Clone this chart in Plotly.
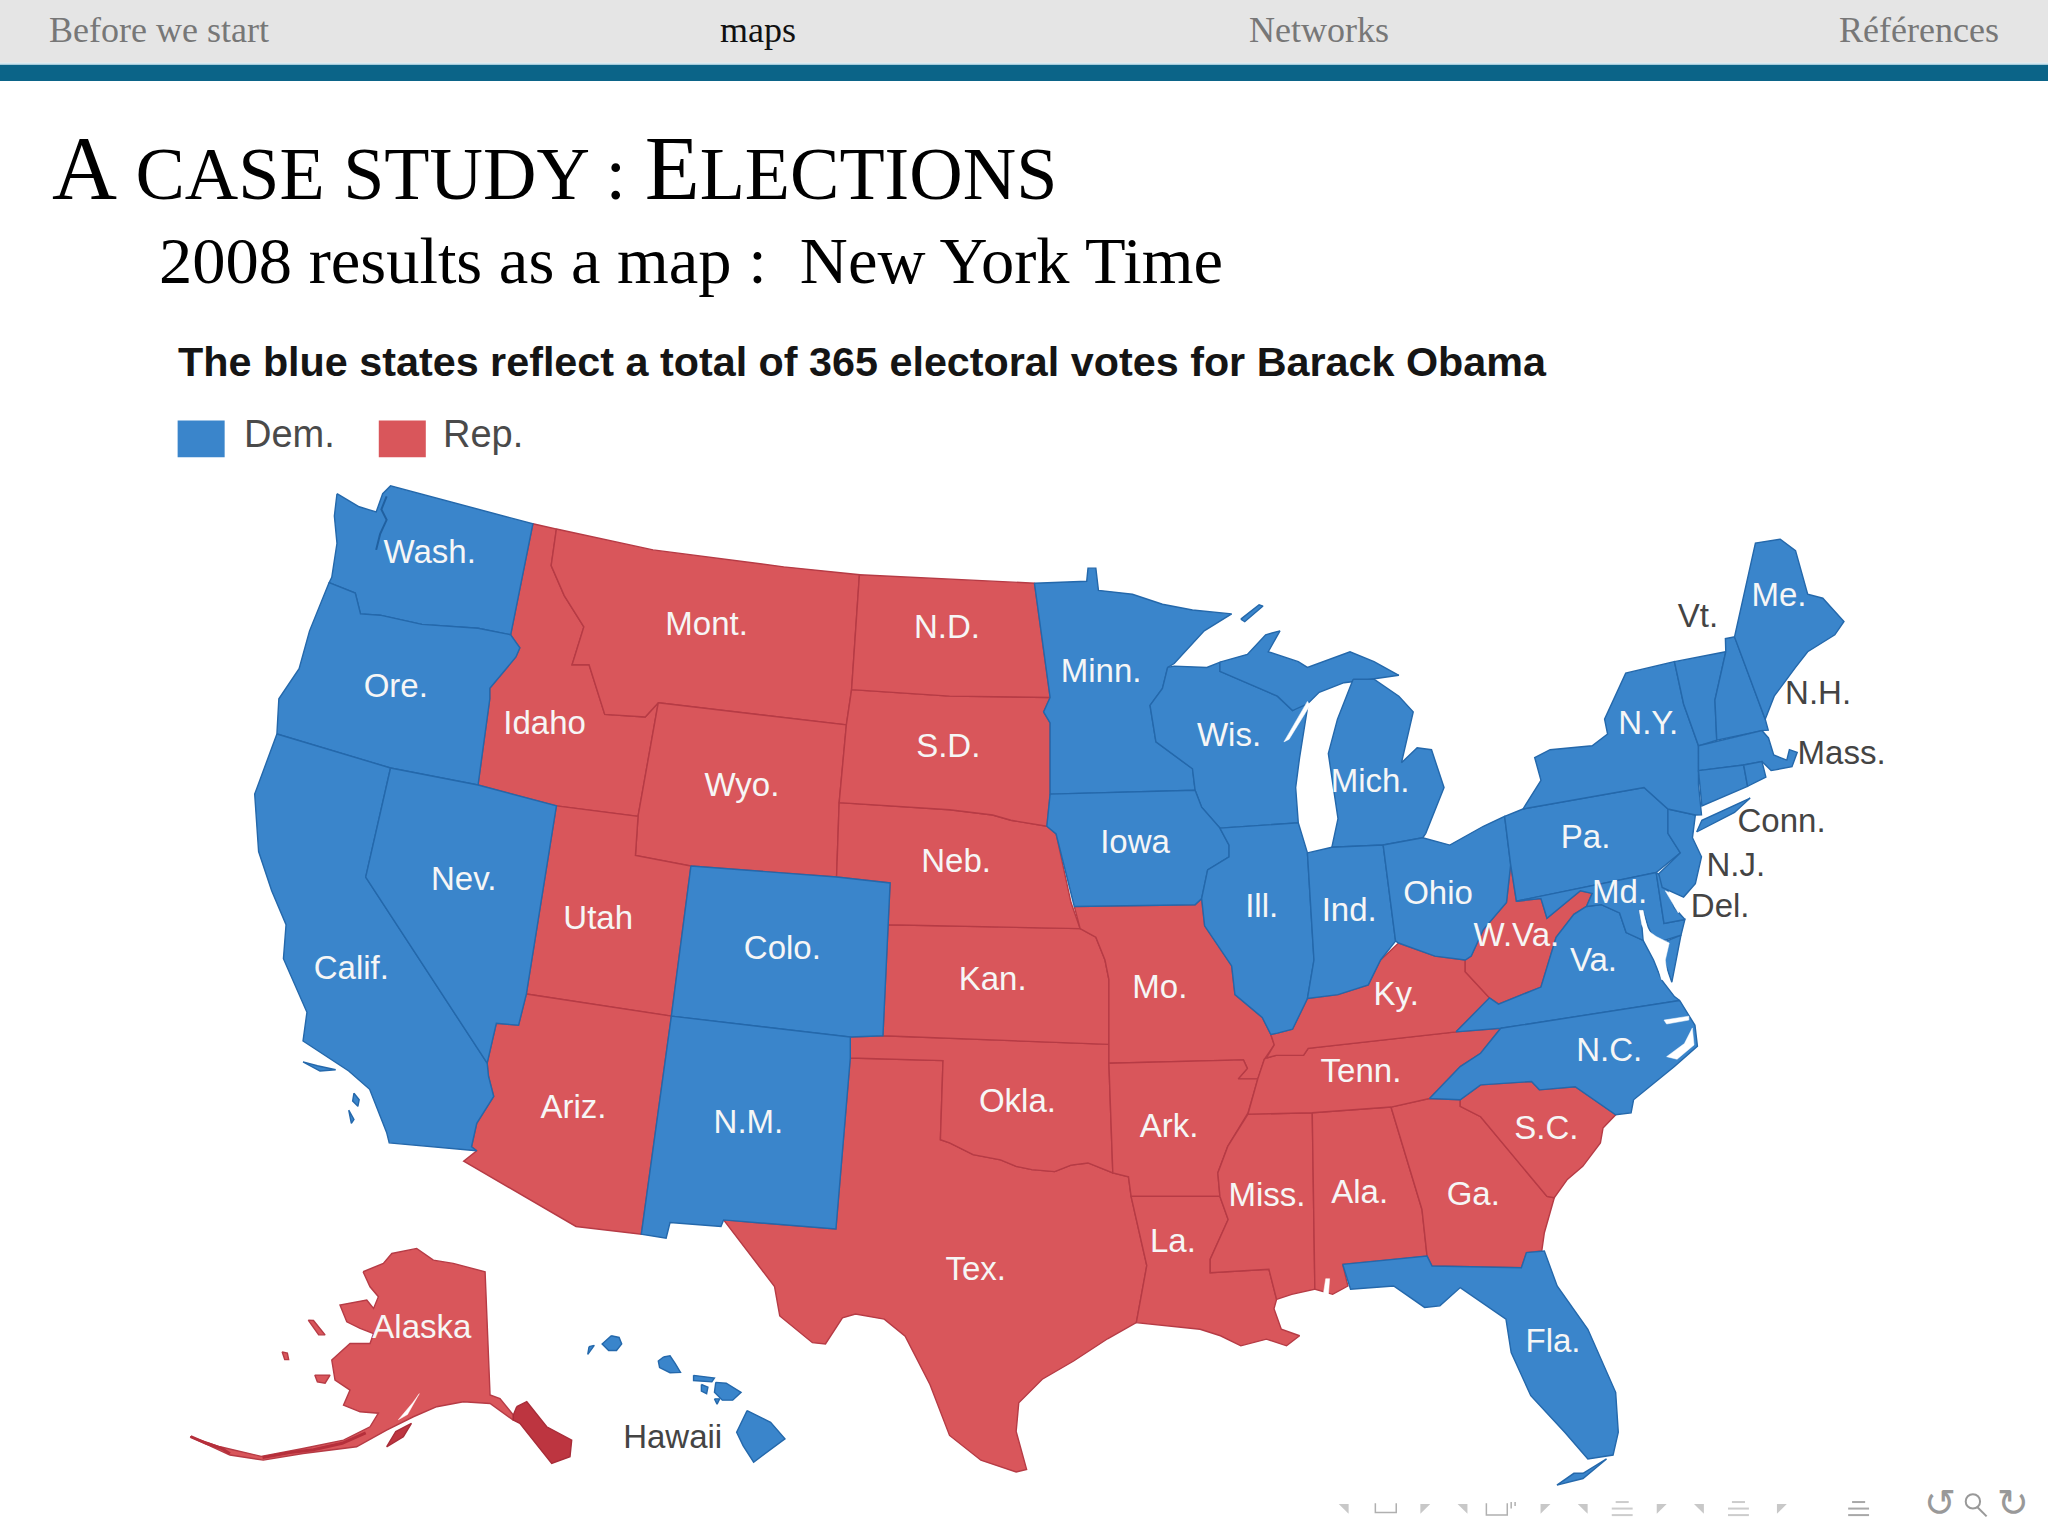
import plotly.graph_objects as go

# ---------- text ----------
NAV_ITEMS = ["Before we start", "maps", "Networks", "Références"]
NAV_COLORS = ["#777777", "#111111", "#777777", "#777777"]
TITLE = ('A<span style="font-size:74px"> CASE STUDY : </span>E<span style="font-size:74px">LECTIONS</span>')
SUBTITLE = "2008 results as a map :\u00a0 New York Time"
HEADLINE = "The blue states reflect a total of 365 electoral votes for Barack Obama"
LEGEND_NAMES = ["Dem.", "Rep."]

BLUE = "#3a85cb"; BLUE_EDGE = "#2468ab"
RED = "#d9565b"; RED_EDGE = "#b63b45"; RED_DARK = "#bd3540"

# ---------- state outlines ----------
WASH = [(258,378),(275,388),(288,392),(293,378),(299,372),(408,401),(391,486),(366,481),(323,478),(291,471),(276,470),(272,454),(252,446),(254,442),(258,416),(256,395)]
ORE = [(252,446),(272,454),(276,470),(291,471),(323,478),(366,481),(391,486),(398,496),(395,503),(375,527),(375,535),(366,601),(299,588),(212,562),(213.5,535),(229,512),(237,483)]
CALIF = [(212,562),(299,588),(280,671.5),(373,814),(374,824),(378,839.5),(365,860),(361,878),(365,881),(298,875),(296,867),(283,834),(267,820),(232,797),(235,775),(217,734),(219,708),(208,682),(198,652),(195,608)]
NEV = [(299,588),(366,601),(426,617),(403,761),(397,785),(380,783.5),(373,814),(280,671.5)]
IDAHO = [(408,401),(426,405),(422,433),(432,456),(447,480),(438,509),(451,509),(463,547),(494,549),(504,538),(488.5,625),(426,617),(366,601),(375,535),(375,527),(395,503),(398,496),(391,486)]
MONT = [(426,405),(500,421),(600,434),(658,440),(652,528),(648,555),(504,538),(494,549),(463,547),(451,509),(438,509),(447,480),(432,456),(422,433)]
WYO = [(504,538),(648,555),(642.5,614.5),(640.5,671.5),(529,663),(486.5,655),(488.5,625)]
UTAH = [(426,617),(488.5,625),(486.5,655),(529,663),(514,778),(403,761)]
ARIZ = [(403,761),(514,778),(491,945),(441,939),(355,889),(365,881),(361,878),(365,860),(378,839.5),(374,824),(373,814),(380,783.5),(397,785)]
COLO = [(529,663),(640.5,671.5),(681.5,676),(680,708),(676,793),(651,794),(514,778)]
NM = [(514,778),(651,794),(651,810),(640,941),(554,934),(552,939),(513,936),(510,948),(491,945)]
TEX = [(651,810),(722,812),(720,872.6),(727,875),(745,884),(766,888),(778,893),(790,895.5),(807.5,897),(820,892),(833,890.4),(852,898),(864,901),(866,916),(878,969),(870,1012.6),(848,1025),(822,1042),(798,1056),(780,1074),(778,1096),(786,1125),(778,1127),(751,1118),(727,1099),(712,1060),(693,1023),(677,1010),(655,1006),(645,1009),(632,1029),(622,1028),(597,1007.5),(593,985),(554,934),(640,941)]
OKLA = [(651,794),(676,793),(849,799.6),(849,814),(852,898),(833,890.4),(820,892),(807.5,897),(790,895.5),(778,893),(766,888),(745,884),(727,875),(720,872.6),(722,812),(651,810)]
KAN = [(680,708),(827,711),(839,717.5),(846,735),(849,750),(849,799.6),(676,793)]
NEB = [(642.5,614.5),(727,620),(760,624),(774,628),(801.5,632.6),(808.6,638.5),(820,691),(827,711),(680,708),(681.5,676),(640.5,671.5)]
SD = [(652,528),(727,533),(804,534),(799,545),(804,553.5),(804,608),(801.5,632.6),(774,628),(760,624),(727,620),(642.5,614.5),(648,555)]
ND = [(658,440),(792,446.5),(797,483),(804,534),(727,533),(652,528)]
MINN = [(792,446.5),(832,445),(833,435),(839,435),(841,452),(867,455),(890,462.6),(913,467),(943,470),(922,483),(899,508),(894,511),(890,527),(880.5,540),(885,568),(913,588.6),(915,605),(804,608),(804,553.5),(799,545),(804,534),(797,483)]
ISLE_ROYALE = [(950,474),(964,463),(967,464),(953,476)]
WIS = [(894,511),(899,510),(924,511),(934,507),(934,514),(978,533),(989.6,544),(1002,536),(995,580),(992,603),(994,630),(934,634),(920,618),(915,605),(913,588.6),(885,568),(880.5,540),(890,527)]
MICH_UP = [(934,507),(955,501),(969,486),(980,483),(971,499),(994,506.6),(1001,511),(1033.6,499),(1052,506.6),(1071,517),(1043,521),(1029,522.7),(1010,530),(1001,539),(989.6,544),(978,533),(934,514)]
MICH_LOW = [(1036,520),(1052,520),(1071,533),(1082,545),(1073,584),(1085,572.5),(1096,574),(1105.6,603),(1091.6,638),(1089.3,641.4),(1059,647),(1019.7,648.7),(1024.4,626.7),(1017,577),(1024,550.6)]
IOWA = [(804,608),(915,605),(920,618),(934,634),(941,647),(941,656),(924.6,666),(920,688),(915,692.7),(822.5,694),(808.6,638.5),(801.5,632.6)]
ILL = [(934,634),(994,630),(1001,653),(1006,735),(1001,764.5),(989.6,788),(978,791),(973,792),(966.4,779),(945.5,761.5),(943,739.5),(922.3,708.8),(920,688),(924.6,666),(941,656),(941,647)]
MO = [(822.5,694),(915,692.7),(920,688),(922.3,708.8),(943,739.5),(945.5,761.5),(966.4,779),(973,792),(975.6,800),(968,811),(963,826),(948,826),(955,818),(952,811.5),(849,814),(849,750),(846,735),(839,717.5),(827,711)]
ARK = [(849,814),(952,811.5),(955,818),(948,826),(963,826),(955.5,852),(940,877.7),(932.4,898),(934,916),(866,916),(864,901),(852,898)]
LA = [(866,916),(934,916),(940.3,933.7),(926.6,964),(926.6,974.4),(971.5,971.8),(977.4,994.8),(975.4,1002),(981,1017.7),(995,1022.7),(985,1030.4),(969.6,1025.3),(950,1030.4),(934.4,1022.7),(918.8,1017.7),(883.6,1013.8),(870,1012.6),(878,969)]
MISS = [(955.5,853),(1004.7,852),(1006.7,987),(989,991),(977.4,994.8),(971.5,971.8),(926.6,974.4),(926.6,964),(940.3,933.7),(934,916),(932.4,898),(940,877.7)]
ALA = [(1004.7,852),(1065,847.6),(1088.7,926),(1092.6,961.7),(1028,968),(1032,984.6),(1020.3,991),(1006.7,987)]
GA = [(1065,847.6),(1094.5,841),(1118,842),(1118,847),(1133.6,855),(1184.4,916),(1190,917),(1182.4,943.8),(1180.4,957.8),(1168.7,959),(1164.8,970.6),(1096.4,969.3),(1092.6,961.7),(1088.7,926)]
SC = [(1118,842),(1133.6,830.6),(1172.6,828),(1178.6,834.4),(1206,832),(1237,853.5),(1227.3,863.7),(1225.3,875),(1211.8,893),(1200,903),(1190,917),(1184.4,916),(1133.6,855),(1118,847)]
NC = [(1149,787.3),(1286,766),(1297.7,785),(1299.6,801),(1282,816.6),(1274,823),(1250.7,842),(1248.8,852),(1237,853.5),(1206,832),(1178.6,834.4),(1172.6,828),(1133.6,830.6),(1118,842),(1094.5,841),(1118,816.6),(1133.6,806.4)]
TENN = [(969.6,810),(977,808),(998,808),(1001.6,802.6),(1114.8,790),(1149,787.3),(1133.6,806.4),(1118,816.6),(1094.5,841),(1065,847.6),(1004.7,852),(955.5,853),(963,826),(968,811)]
KY = [(973,792),(978,791),(989.6,788),(1001,764.5),(1024.4,761.5),(1047.6,754),(1057,735),(1070.8,722),(1098.6,732),(1121.8,735),(1121.8,744),(1140.4,764),(1114.8,790),(1001.6,802.6),(998,808),(977,808),(969.6,810),(975.6,800)]
IND = [(1001,653),(1019.7,648.7),(1059,647),(1068.5,720.5),(1057,735),(1047.6,754),(1024.4,761.5),(1001,764.5),(1006,735)]
OHIO = [(1059,647),(1089.3,641.4),(1110,647),(1135.7,632.6),(1152,625),(1156.6,662),(1153.4,691),(1135.7,711.7),(1126.4,732),(1121.8,735),(1098.6,732),(1070.8,722),(1068.5,720.5)]
PA = [(1152,625),(1166,619.4),(1258.7,603),(1277,619.4),(1277,638),(1286.5,653),(1268,668),(1161,690),(1156.6,662)]
WVA = [(1156.6,662),(1161,690),(1179.8,688),(1184.4,703),(1210,682),(1219,684),(1214.6,694),(1205,700),(1191.4,717.6),(1179.8,755.7),(1147.3,768.8),(1140.4,764),(1121.8,744),(1121.8,735),(1126.4,732),(1135.7,711.7),(1153.4,691)]
VA = [(1114.8,790),(1140.4,764),(1147.3,768.8),(1179.8,755.7),(1191.4,717.6),(1205,700),(1214.6,694),(1226,692.6),(1240,699),(1245,714),(1258,720),(1266,735),(1272,750),(1282,763),(1286,766),(1149,787.3)]
VA_SHORE = [(1270,723),(1287,716),(1280,752)]
MD = [(1161,690),(1268,668),(1274,707),(1290,704),(1287,716),(1268,722),(1262,710),(1258,697),(1255,697),(1257,708),(1258,720),(1245,714),(1240,699),(1226,692.6),(1214.6,694),(1219,684),(1210,682),(1184.4,703),(1179.8,688)]
DEL = [(1268,668),(1271,670),(1276,680),(1282,695),(1290,704),(1274,707)]
NJ = [(1277,619.4),(1298,624),(1295.8,641.4),(1302.7,656),(1298,676.5),(1289,686.8),(1272.6,679.5),(1270,669),(1286.5,653),(1277,638)]
NY = [(1166,619.4),(1179.8,597.4),(1175,580),(1186.8,574),(1219,571),(1230.8,562),(1228.5,550.6),(1244.7,515.4),(1282,506.6),(1289,539),(1300.4,571),(1300.4,600.4),(1302.7,623.8),(1298,624),(1277,619.4),(1258.7,603)]
LONG_ISL = [(1299,637),(1303,628),(1340,611),(1328,622)]
VT = [(1282,506.6),(1321.3,499),(1313,536),(1314.4,566.7),(1300.4,571),(1289,539)]
NH = [(1321.3,499),(1321,489),(1328,487.6),(1351.5,550.6),(1353.8,559),(1349,559.4),(1314.4,566.7),(1313,536)]
ME = [(1328,487.6),(1335,456.8),(1344,415.8),(1363,412.8),(1374.7,421.6),(1384,455),(1395.6,458),(1411.8,475.8),(1404.8,486),(1384,499),(1374.7,511),(1358.4,533),(1351.5,550.6)]
MASS = [(1300.4,571),(1349,559.4),(1354,565),(1358,578),(1368,582),(1370,574),(1376,576),(1372,587),(1356,590),(1349,583),(1335,585.7),(1300.4,590)]
CONN = [(1300.4,590),(1335,585.7),(1338,602),(1303,617)]
RI = [(1335,585.7),(1349,583),(1352,595),(1338,602)]
FLA = [(1028,968),(1092.6,961.7),(1096.4,969.3),(1164.8,970.6),(1168.7,959),(1182.4,957.8),(1192.2,984.6),(1215.7,1017.7),(1237,1066),(1239,1096.6),(1235,1114),(1215.7,1117),(1198,1096.6),(1172,1068.6),(1157,1035.5),(1153,1010),(1118,985.8),(1102.4,999.8),(1090.7,1001),(1067,984.6),(1034,987)]
FLA_KEYS = [(1192,1137),(1205,1128),(1212,1128),(1230,1117),(1212,1132)]
ALASKA = [(278,973.7),(293.5,967.3),(300,959.7),(319,955.8),(331.8,964.8),(347,967.3),(371.4,973.7),(375.2,1068),(382.8,1070.7),(393,1083.4),(393,1087.3),(375.2,1074.5),(354.8,1073.2),(334.4,1077),(316.5,1084.7),(296,1095),(273,1107.7),(232,1112.8),(201.6,1117.9),(176,1114),(145.5,1100),(168.5,1107.7),(200,1115),(232,1109),(263,1102.6),(283.3,1092.4),(289.7,1082),(275.7,1080.9),(263,1075.8),(268,1064.3),(256.5,1056.6),(254,1041.3),(268,1028.6),(283.3,1028.6),(286,1021),(275.7,1017),(265.5,1012),(260.3,999.2),(280.8,995.4),(286,1001.8),(289.7,992.8),(283.3,985.2)]
PANHANDLE = [(395.6,1077),(403.3,1073.2),(418.6,1092.4),(437.7,1102.6),(436.4,1115.3),(422.4,1120.4),(398,1089.8),(393,1087.3),(393,1083.4)]
KODIAK = [(296,1107.7),(303,1096),(315,1089.8),(308.8,1100)]
NUNIVAK = [(241,1052.8),(252.7,1052.8),(248.9,1059),(243,1058)]
ST_LAWRENCE = [(236,1010.7),(240,1011),(248.9,1022),(244,1022)]
ISLET = [(216,1035),(220,1036),(221,1041),(218,1041)]
ALEUT_WEST_X = [146, 158, 170, 176]
ALEUT_WEST_Y = [1100, 1105, 1109, 1113]
ALEUT_EAST_X = [201, 222, 240, 262, 280]
ALEUT_EAST_Y = [1116, 1112, 1110, 1105, 1097]
COOK_INLET = [(305,1087),(312,1083),(321,1067),(316,1074)]
KAUAI = [(468,1022.7),(474,1024),(476,1029),(472,1034),(466,1034),(461,1029)]
NIIHAU = [(451,1031),(455,1030),(450,1037)]
OAHU = [(508,1039),(513,1038),(517,1044),(521,1050.7),(513,1051),(505,1047),(504,1042)]
MOLOKAI = [(531,1053),(547,1055),(545,1058),(531,1057)]
LANAI = [(537,1060),(542,1062),(541,1067),(537,1065)]
MAUI = [(548,1058.4),(556,1059),(567.4,1066),(561,1072),(553,1072),(547,1066)]
KAHOOLAWE = [(547,1071),(551,1071),(549,1075)]
BIG_ISLAND = [(572,1080),(590,1089),(601,1101.6),(577,1119.5),(569,1107),(564,1096.6)]
CHANNEL_A = [(232,813),(243,816),(257,819),(245,820)]
CHANNEL_B = [(271,837),(275,842),(274,847),(270,843)]
CHANNEL_C = [(267,850),(271,857),(269,860)]

DEM_STATES = [WASH, ORE, CALIF, NEV, COLO, NM, MINN, ISLE_ROYALE, WIS, MICH_UP, MICH_LOW, IOWA, ILL, IND, OHIO, PA, VA, VA_SHORE, MD, DEL, NJ, NY, LONG_ISL, VT, NH, ME, MASS, CONN, RI, NC, FLA, FLA_KEYS, KAUAI, NIIHAU, OAHU, MOLOKAI, LANAI, MAUI, KAHOOLAWE, BIG_ISLAND, CHANNEL_A, CHANNEL_B, CHANNEL_C]
REP_STATES = [IDAHO, MONT, WYO, UTAH, ARIZ, TEX, OKLA, KAN, NEB, SD, ND, MO, ARK, LA, MISS, ALA, GA, SC, TENN, KY, WVA, ALASKA, NUNIVAK, ST_LAWRENCE, ISLET]
REP_DARK = [PANHANDLE, KODIAK]

# water cut into the land
GREEN_BAY = [(983,568),(1001,537),(1003,540),(987,566)]
CHESAPEAKE = [(1255,697),(1258,697),(1261,712),(1268,717),(1278,722),(1275,735),(1277,750),(1272,750),(1268,733),(1262,718),(1257,708)]
DELAWARE_BAY = [(1275,682),(1288,688),(1285,699),(1281,692)]
PAMLICO = [(1276,809),(1289.6,799),(1295.7,787),(1297,800),(1284,811)]
ALBEMARLE = [(1274,781),(1293,778),(1293,781),(1276,784)]
MOBILE_BAY = [(1015,979),(1018,979),(1017,992),(1013,992)]
WATER = [GREEN_BAY, CHESAPEAKE, DELAWARE_BAY, PAMLICO, ALBEMARLE, MOBILE_BAY, COOK_INLET]
PUGET_X = [288, 291, 296, 292, 296]
PUGET_Y = [421, 409, 398, 390, 380]

# ---------- labels ----------
WHITE_LABELS = ["Wash.","Ore.","Calif.","Nev.","Idaho","Mont.","Wyo.","Utah","Ariz.","Colo.","N.M.","N.D.","S.D.","Neb.","Kan.","Okla.","Tex.","Minn.","Iowa","Mo.","Ark.","La.","Wis.","Ill.","Miss.","Mich.","Ind.","Ala.","Ohio","Ky.","Tenn.","Ga.","Fla.","S.C.","N.C.","Va.","W.Va.","Pa.","Md.","N.Y.","Me.","Alaska"]
WHITE_X = [329,303,269,355,417,541,568,458,439,599,573,725,726,732,760,779,747,843,869,888,895,898,941,966,970,1049,1033,1041,1101,1069,1042,1128,1189,1184,1232,1220,1161,1214,1240,1262,1362,323]
WHITE_Y = [425,527,743,675,556,480,603,705,850,728,861,482,573,661,752,845,974,516,647,758,864,952,565,696,917,600,699,915,686,763,822,916,1029,866,806,737,718,643,685,556,458,1018]
DARK_LABELS = ["Vt.","N.H.","Mass.","Conn.","N.J.","Del.","Hawaii"]
DARK_X = [1300,1392,1410,1364,1329,1317,515]
DARK_Y = [474,533,579,631,664,696,1102]

# navigation symbols of the slide footer
TRI_LEFT_X = [1030,1121,1213,1302]
TRI_RIGHT_X = [1090,1182,1271,1363]
FOOT_Y = 1154
LINES_X = [1242,1331,1423]
ICONS = ["\u21ba","\u21bb"]
ICON_X = [1485,1541]

fig = go.Figure()

def draw(pts, fill, edge, width=1.4):
    xs = [p[0] for p in pts] + [pts[0][0]]
    ys = [p[1] for p in pts] + [pts[0][1]]
    fig.add_trace(go.Scatter(x=xs, y=ys, mode="lines", fill="toself", fillcolor=fill,
                             line=dict(color=edge, width=width), hoverinfo="skip", showlegend=False))

for s in REP_STATES:
    draw(s, RED, RED_EDGE)
for s in DEM_STATES:
    draw(s, BLUE, BLUE_EDGE)
for s in REP_DARK:
    draw(s, RED_DARK, "#a82c38")
for xs, ys in ((ALEUT_WEST_X, ALEUT_WEST_Y), (ALEUT_EAST_X, ALEUT_EAST_Y)):
    fig.add_trace(go.Scatter(x=xs, y=ys, mode="lines", line=dict(color="#b52f3b", width=3),
                             hoverinfo="skip", showlegend=False))
for s in WATER:
    draw(s, "white", "white", 0.5)
fig.add_trace(go.Scatter(x=PUGET_X, y=PUGET_Y, mode="lines", line=dict(color="#2060a0", width=2),
                         hoverinfo="skip", showlegend=False))

fig.add_trace(go.Scatter(x=WHITE_X, y=WHITE_Y, mode="text", text=WHITE_LABELS, textposition="middle center",
                         textfont=dict(family="Liberation Sans", size=33, color="#f6f6f6"),
                         hoverinfo="skip", showlegend=False))
fig.add_trace(go.Scatter(x=DARK_X, y=DARK_Y, mode="text", text=DARK_LABELS, textposition="middle center",
                         textfont=dict(family="Liberation Sans", size=33, color="#444444"),
                         hoverinfo="skip", showlegend=False))

fig.add_trace(go.Scatter(x=TRI_LEFT_X, y=[FOOT_Y]*4, mode="markers", hoverinfo="skip", showlegend=False,
                         marker=dict(symbol="triangle-ne", size=11, color="#c8c8c8")))
fig.add_trace(go.Scatter(x=TRI_RIGHT_X, y=[FOOT_Y]*4, mode="markers", hoverinfo="skip", showlegend=False,
                         marker=dict(symbol="triangle-nw", size=11, color="#c8c8c8")))

shapes = [
    dict(type="rect", x0=0, x1=1568, y0=0, y1=48, fillcolor="#e5e5e5", line_width=0, layer="below"),
    dict(type="rect", x0=0, x1=1568, y0=48, y1=49.5, fillcolor="#cfe6f0", line_width=0, layer="below"),
    dict(type="rect", x0=0, x1=1568, y0=49.5, y1=62, fillcolor="#0b6488", line_width=0, layer="below"),
    dict(type="rect", x0=136, x1=172, y0=322, y1=350, fillcolor=BLUE, line_width=0),
    dict(type="rect", x0=290, x1=326, y0=322, y1=350, fillcolor=RED, line_width=0),
    dict(type="path", path="M1053,1151 L1053,1158 L1069,1158 L1069,1151", line=dict(color="#b0b0b0", width=1.5)),
    dict(type="path", path="M1138,1151 L1138,1160 L1154,1160 L1154,1151 M1157,1150 L1157,1155 M1160,1150 L1160,1153",
         line=dict(color="#b0b0b0", width=1.5)),
    dict(type="circle", x0=1505, x1=1516, y0=1144, y1=1155, line=dict(color="#999999", width=2)),
    dict(type="line", x0=1514, x1=1521, y0=1154, y1=1161, line=dict(color="#999999", width=2)),
]
for i, lx in enumerate(LINES_X):
    col = "#cccccc" if i < 2 else "#a8a8a8"
    for dy, half in ((1150, 5), (1155, 8), (1160, 8)):
        shapes.append(dict(type="line", x0=lx-half, x1=lx+half, y0=dy, y1=dy, line=dict(color=col, width=2)))

ann = []
def text(x, y, s, size, color="#000000", anchor="left", family="Liberation Serif", bold=False):
    f = dict(family=family, size=size, color=color)
    if bold:
        f["weight"] = "bold"
    ann.append(dict(x=x, y=y, xref="x", yref="y", text=s, showarrow=False, xanchor=anchor, yanchor="middle", font=f))

NAV_X = [36, 580, 1010, 1532]
NAV_ANCHOR = ["left", "center", "center", "right"]
for s, c, x, a in zip(NAV_ITEMS, NAV_COLORS, NAV_X, NAV_ANCHOR):
    text(x, 23, s, 36, c, a)
text(38, 129, TITLE, 90)
text(120, 199.5, SUBTITLE, 66.5)
text(134.5, 277, HEADLINE, 41.3, "#151515", family="Liberation Sans", bold=True)
text(185, 332, LEGEND_NAMES[0], 38, "#4a4a4a", family="Liberation Sans")
text(338, 332, LEGEND_NAMES[1], 38, "#4a4a4a", family="Liberation Sans")
for s, x in zip(ICONS, ICON_X):
    text(x, 1151, s, 38, "#999999", "center", family="DejaVu Sans")

fig.update_layout(
    width=2048, height=1536, margin=dict(l=0, r=0, t=0, b=0, pad=0),
    paper_bgcolor="white", plot_bgcolor="white", showlegend=False,
    xaxis=dict(range=[0, 1568], visible=False, fixedrange=True),
    yaxis=dict(range=[1176, 0], visible=False, fixedrange=True),
    shapes=shapes, annotations=ann,
)
fig.write_html("out.html", config=dict(displayModeBar=False),
               post_script="document.body.style.margin='0';document.documentElement.style.overflow='hidden';")
